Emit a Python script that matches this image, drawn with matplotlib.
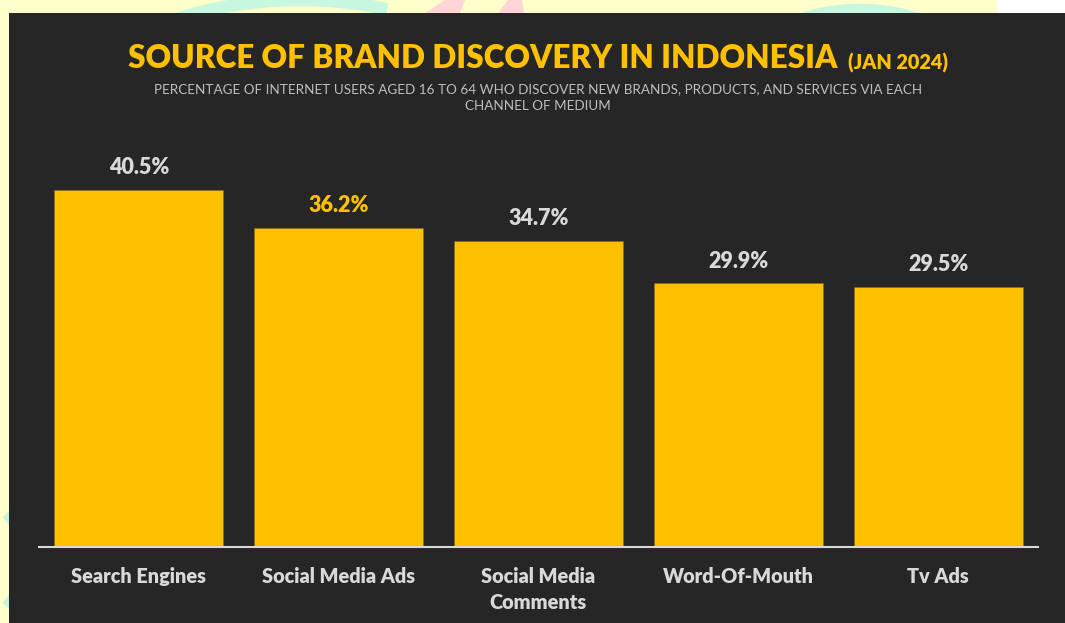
import matplotlib.pyplot as plt
from matplotlib.patches import Rectangle, Arc, Polygon

plt.rcParams['font.family'] = ['Lato', 'DejaVu Sans']

channels = ["Search Engines", "Social Media Ads", "Social Media\nComments", "Word-Of-Mouth", "Tv Ads"]
share = [40.5, 36.2, 34.7, 29.9, 29.5]
label_colors = ["#D9D9D9", "#FFC000", "#D9D9D9", "#D9D9D9", "#D9D9D9"]

BG = "#262626"
GOLD = "#FFC000"
LIGHT = "#D9D9D9"

W, H = 1065, 623
fig = plt.figure(figsize=(W / 100, H / 100), dpi=100, facecolor="#FFFFCC")

# decorative backdrop behind the dark panel (pixel coordinates)
deco = fig.add_axes([0, 0, 1, 1], zorder=0)
deco.set_xlim(0, W)
deco.set_ylim(H, 0)
deco.axis("off")
deco.add_patch(Arc((300, 160), 520, 320, theta1=190, theta2=300, color="#C8F7E0", lw=9))
deco.add_patch(Arc((860, 180), 360, 340, theta1=230, theta2=320, color="#C8F7E0", lw=9))
deco.add_patch(Arc((-20, 560), 90, 120, theta1=-60, theta2=60, color="#C8F7E0", lw=10))
deco.add_patch(Polygon([[425, 13], [445, 0], [465, 0], [460, 13]], color="#FFD5D8", lw=0))
deco.add_patch(Polygon([[498, 13], [508, 0], [522, 0], [524, 13]], color="#FFD5D8", lw=0))
deco.add_patch(Rectangle((997, 0), 68, 13, color="white", lw=0))
deco.add_patch(Rectangle((9, 13), W - 9, H - 13, color=BG, lw=0))

ax = fig.add_axes([39 / W, (H - 547) / H, 999 / W, 396.7 / H], zorder=1)
ax.set_facecolor("none")
x = range(len(channels))
bars = ax.bar(x, share, width=0.845, color=GOLD, edgecolor="#8A6A10", linewidth=0.4)
ax.set_xlim(-0.5, len(channels) - 0.5)
ax.set_ylim(0, 45)

for rect, v, c in zip(bars, share, label_colors):
    ax.annotate(f"{v}%", (rect.get_x() + rect.get_width() / 2, v),
                xytext=(0, 16), textcoords="offset points", ha="center", va="center",
                color=c, fontsize=15.5, fontweight="heavy")

ax.set_xticks(list(x))
ax.set_xticklabels(channels, color=LIGHT, fontsize=14.3, fontweight="heavy", linespacing=1.4)
ax.tick_params(axis="x", length=0, pad=14.5)
ax.set_yticks([])
for s in ["top", "right", "left"]:
    ax.spines[s].set_visible(False)
ax.spines["bottom"].set_color(LIGHT)
ax.spines["bottom"].set_linewidth(1.5)

# two-part title, centred as a whole
r = fig.canvas.get_renderer()
t1 = fig.text(0, 1 - 59 / H, "SOURCE OF BRAND DISCOVERY IN INDONESIA", color=GOLD,
              fontsize=22.7, fontweight="heavy", va="center", ha="left")
t2 = fig.text(0, 1 - 63 / H, "(JAN 2024)", color=GOLD, fontsize=14.3,
              fontweight="heavy", va="center", ha="left")
w1 = t1.get_window_extent(r).width
w2 = t2.get_window_extent(r).width
gap = 10
start = 538 - (w1 + gap + w2) / 2
t1.set_x(start / W)
t2.set_x((start + w1 + gap) / W)

fig.text(538 / W, 1 - 98 / H,
         "PERCENTAGE OF INTERNET USERS AGED 16 TO 64 WHO DISCOVER NEW BRANDS, PRODUCTS, AND SERVICES VIA EACH\nCHANNEL OF MEDIUM",
         color="#BFBFBF", fontsize=9.7, ha="center", va="center", linespacing=1.5)

fig.savefig("out.png", dpi=100, facecolor=fig.get_facecolor())
